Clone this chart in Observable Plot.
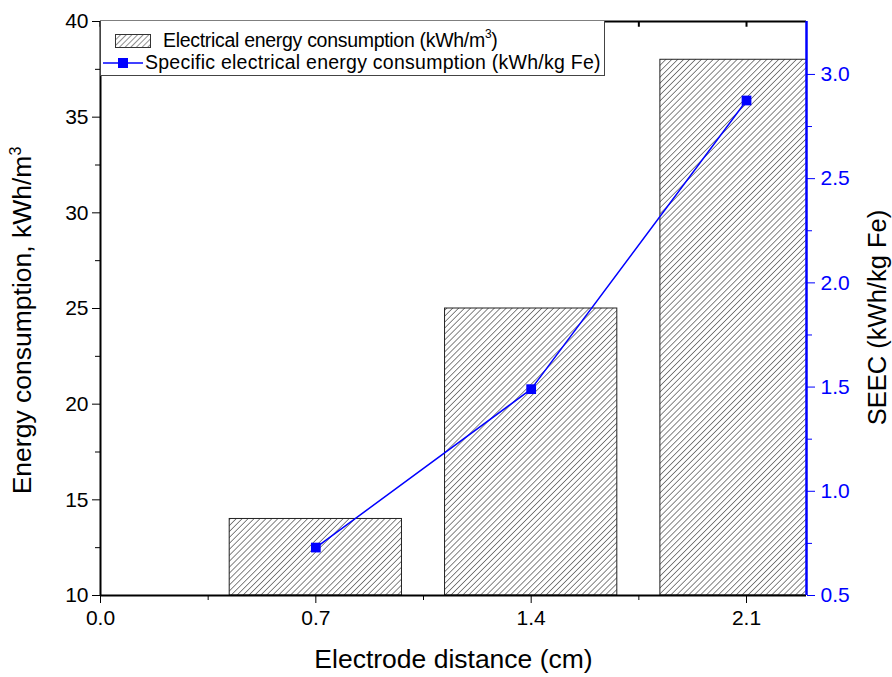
<!DOCTYPE html>
<html><head><meta charset="utf-8">
<script src="https://cdn.jsdelivr.net/npm/d3@7"></script>
<script src="https://cdn.jsdelivr.net/npm/@observablehq/plot@0.6"></script>
<style>
body{margin:0;background:#fff;font-family:"Liberation Sans",Arial,sans-serif;}
#wrap{position:relative;width:892px;height:677px;}
#legend{position:absolute;left:100px;top:21px;width:505px;height:55px;background:#fff;border:1px solid #444;border-top:none;box-sizing:border-box;font-size:19.5px;color:#000;}
#legend .row{position:absolute;left:14px;white-space:nowrap;line-height:20px;}
#legend sup{font-size:12px;vertical-align:9px;line-height:0;}
.tick-lbl text{font-size:21px;}
</style></head>
<body><div id="wrap"><div id="chart"></div>
<div id="legend">
 <div class="row" style="top:9px"><svg width="36" height="14" style="vertical-align:-1px;margin-right:12px"><rect x="0.5" y="0.5" width="35" height="13" fill="url(#hatchL)" stroke="#333"/><defs><pattern id="hatchL" patternUnits="userSpaceOnUse" width="4" height="4" patternTransform="rotate(45)"><line x1="0" y1="0" x2="0" y2="4" stroke="#222" stroke-width="1"/></pattern></defs></svg><span style="letter-spacing:-0.3px">Electrical energy consumption (kWh/m<sup>3</sup>)</span></div>
 <div class="row" style="top:31px;left:-2px"><svg width="44" height="14" style="vertical-align:-1px;margin-right:2px"><line x1="4" y1="7" x2="44" y2="7" stroke="blue" stroke-width="1.5"/><rect x="19" y="2" width="10" height="10" fill="blue"/></svg><span style="letter-spacing:0.25px">Specific electrical energy consumption (kWh/kg Fe)</span></div>
</div></div>
<script>
const distances = [0.7, 1.4, 2.1];
const energy = [14, 25, 38];
const seec = [0.73, 1.49, 2.875];
const xTicks = [0.0, 0.7, 1.4, 2.1];
const xMinor = [0.35, 1.05, 1.75];
const yTicks = [10, 15, 20, 25, 30, 35, 40];
const yMinor = [12.5, 17.5, 22.5, 27.5, 32.5, 37.5];
const rTicks = [0.5, 1.0, 1.5, 2.0, 2.5, 3.0];
const rMinor = [0.75, 1.25, 1.75, 2.25, 2.75];

const xMax = 2.295;
const rMin = 0.5, rMax = 3.254, lMin = 10, lMax = 40;
const toL = v => lMin + (v - rMin) * (lMax - lMin) / (rMax - rMin);
const fromL = v => rMin + (v - lMin) * (rMax - rMin) / (lMax - lMin);

const bars = distances.map((d, i) => ({d, e: energy[i]}));
const pts = distances.map((d, i) => ({d, s: toL(seec[i])}));
const halfW = 0.28;

const plot = Plot.plot({
  width: 892, height: 677,
  marginLeft: 100, marginRight: 86, marginTop: 21, marginBottom: 82,
  style: {fontFamily: '"Liberation Sans", Arial, sans-serif', color: "#000", background: "#fff"},
  x: {domain: [0, xMax]},
  y: {domain: [lMin, lMax]},
  marks: [
    Plot.rectY(bars, {x1: d => d.d - halfW, x2: d => d.d + halfW, y1: lMin, y2: "e", fill: "url(#hatch)", stroke: "#222", strokeWidth: 1, clip: true}),
    Plot.line(pts, {x: "d", y: "s", stroke: "blue", strokeWidth: 1.5}),
    Plot.dot(pts, {x: "d", y: "s", symbol: "square", r: 5.5, fill: "blue"}),
    Plot.axisX({ticks: xTicks, tickSize: 8, tickPadding: 7, tickFormat: d => d.toFixed(1), tickWidth: 2, label: null, className: "tick-lbl"}),
    Plot.axisX({ticks: xMinor, tickSize: 5, tickFormat: () => "", tickWidth: 2, label: null}),
    Plot.ruleX(xTicks.concat(xMinor), {y1: lMax, y2: lMax - 0.3, stroke: "#000", strokeWidth: 2}),
    Plot.axisY({ticks: yTicks, tickSize: 8, tickPadding: 4, tickWidth: 2, label: null, className: "tick-lbl"}),
    Plot.axisY({ticks: yMinor, tickSize: 5, tickFormat: () => "", tickWidth: 2, label: null}),
    Plot.axisY({anchor: "right", ticks: rTicks.map(toL), tickSize: 8, tickPadding: 6, tickWidth: 2, tickFormat: d => fromL(d).toFixed(1), stroke: "blue", fill: "blue", label: null, className: "tick-lbl"}),
    Plot.axisY({anchor: "right", ticks: rMinor.map(toL), tickSize: 5, tickWidth: 2, tickFormat: () => "", stroke: "blue", label: null}),
    Plot.ruleY([lMin], {stroke: "#000", strokeWidth: 2}),
    Plot.ruleY([lMax], {stroke: "#000", strokeWidth: 2}),
    Plot.ruleX([0], {stroke: "#000", strokeWidth: 2}),
    Plot.ruleX([xMax], {stroke: "blue", strokeWidth: 2.5}),
    Plot.text(["Electrode distance (cm)"], {frameAnchor: "bottom", dy: 72, fontSize: 26.5, fill: "#000"}),
    Plot.text(["Energy consumption, kWh/m"], {frameAnchor: "left", textAnchor: "middle", dx: -78, dy: 12, rotate: -90, fontSize: 26.5, fill: "#000"}),
    Plot.text(["SEEC (kWh/kg Fe)"], {frameAnchor: "right", textAnchor: "middle", dx: 71, dy: 9, rotate: -90, fontSize: 25.5, fill: "#000"})
  ]
});
d3.select(plot).selectAll("text").filter(function() { return this.textContent === "Energy consumption, kWh/m"; })
  .append("tspan").attr("font-size", 16).attr("dy", "-0.6em").text("3");
const defs = d3.select(plot).insert("defs", ":first-child");
const pat = defs.append("pattern").attr("id", "hatch").attr("patternUnits", "userSpaceOnUse")
  .attr("width", 4.2).attr("height", 4.2).attr("patternTransform", "rotate(45)");
pat.append("rect").attr("width", 4.2).attr("height", 4.2).attr("fill", "#fff");
pat.append("line").attr("x1", 0).attr("y1", 0).attr("x2", 0).attr("y2", 4.2).attr("stroke", "#222").attr("stroke-width", 1.1);
document.getElementById("chart").appendChild(plot);
</script></body></html>
